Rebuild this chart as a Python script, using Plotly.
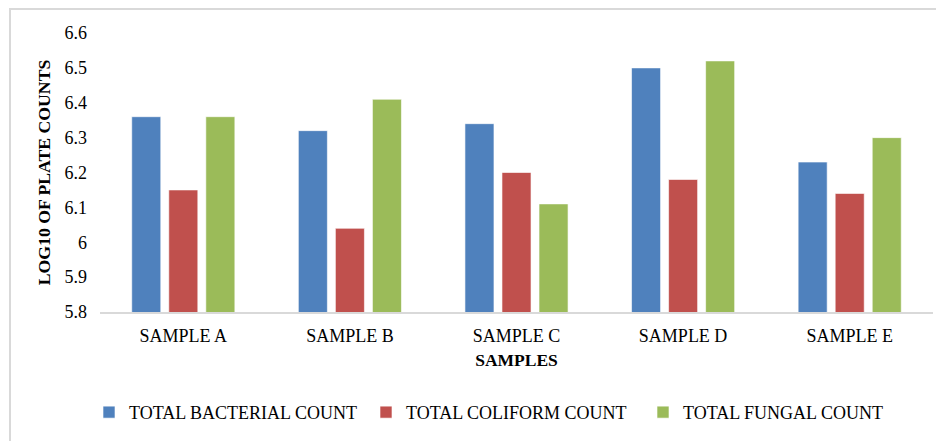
import plotly.graph_objects as go

categories = ["SAMPLE A", "SAMPLE B", "SAMPLE C", "SAMPLE D", "SAMPLE E"]
bacterial = [6.36, 6.32, 6.34, 6.50, 6.23]
coliform = [6.15, 6.04, 6.20, 6.18, 6.14]
fungal = [6.36, 6.41, 6.11, 6.52, 6.30]
y_ticks = [5.8, 5.9, 6.0, 6.1, 6.2, 6.3, 6.4, 6.5, 6.6]
y_tick_text = ["5.8", "5.9", "6", "6.1", "6.2", "6.3", "6.4", "6.5", "6.6"]

FONT = "'Times New Roman', 'Liberation Serif', Tinos, 'DejaVu Serif', serif"

fig = go.Figure()
series = [
    ("TOTAL BACTERIAL COUNT", bacterial, "#4F81BD"),
    ("TOTAL COLIFORM COUNT", coliform, "#C0504D"),
    ("TOTAL FUNGAL COUNT", fungal, "#9BBB59"),
]
for name, vals, color in series:
    fig.add_trace(go.Bar(
        x=categories, y=vals, name=name,
        marker=dict(color=color, line=dict(color="rgba(255,255,255,0.6)", width=1)),
    ))

# page body has an 8px default margin, so the figure is shifted by 8px
W, H = 936, 433
L, R, T, B = 92, 11, 25, 129
pw = W - L - R
ph = H - T - B

fig.update_layout(
    width=W, height=H,
    margin=dict(l=L, r=R, t=T, b=B, autoexpand=False),
    paper_bgcolor="white", plot_bgcolor="white",
    barmode="group", bargap=0.333, bargroupgap=0.216,
    font=dict(family=FONT, size=18, color="#000000"),
    showlegend=True,
    legend=dict(orientation="h", x=-11 / pw, xanchor="left", y=-0.36, yanchor="middle",
                font=dict(family=FONT, size=18, color="#000000"),
                tracegroupgap=0, entrywidth=232, entrywidthmode="pixels"),
    xaxis=dict(
        showline=True, linecolor="#d9d9d9", linewidth=1.5,
        showgrid=False, ticks="", tickfont=dict(family=FONT, size=18),
        ticklabelstandoff=7,
        title=dict(text="<b>SAMPLES</b>", font=dict(family=FONT, size=17.5), standoff=8),
    ),
    yaxis=dict(
        range=[5.8, 6.6], tickvals=y_ticks, ticktext=y_tick_text,
        showline=False, showgrid=False, zeroline=False, ticks="",
        tickfont=dict(family=FONT, size=18), ticklabelstandoff=12,
        title=dict(text="<b>LOG10 OF PLATE COUNTS</b>", font=dict(family=FONT, size=17.7), standoff=9),
    ),
    shapes=[dict(type="rect", xref="paper", yref="paper",
                 x0=(2 - L) / pw, x1=(W + 20 - L) / pw,
                 y0=1 - (H + 20 - T) / ph, y1=1 + (T - 1) / ph,
                 line=dict(color="#d9d9d9", width=2), fillcolor="rgba(0,0,0,0)", layer="below")],
)

fig.write_html("out.html")
